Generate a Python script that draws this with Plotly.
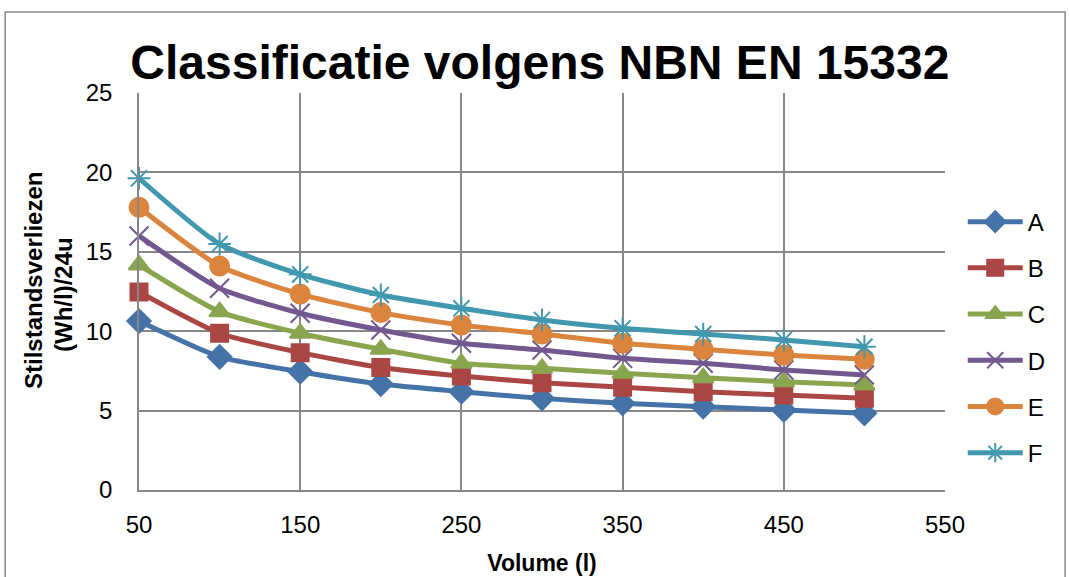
import plotly.graph_objects as go

volumes = [50, 100, 150, 200, 250, 300, 350, 400, 450, 500]
A = [10.64, 8.39, 7.45, 6.67, 6.19, 5.77, 5.46, 5.25, 5.04, 4.83]
B = [12.47, 9.87, 8.65, 7.72, 7.18, 6.76, 6.47, 6.19, 5.98, 5.77]
C = [14.17, 11.23, 9.87, 8.86, 7.98, 7.66, 7.35, 7.07, 6.82, 6.61]
D = [16.00, 12.70, 11.13, 10.08, 9.24, 8.82, 8.29, 7.98, 7.56, 7.24]
E = [17.80, 14.10, 12.34, 11.17, 10.39, 9.82, 9.24, 8.86, 8.50, 8.23]
F = [19.63, 15.49, 13.58, 12.28, 11.44, 10.71, 10.18, 9.82, 9.45, 9.02]

series = [
    ("A", A, "#4572A7", "diamond", 18),
    ("B", B, "#AA4643", "square", 17),
    ("C", C, "#89A54E", "triangle-up", 18),
    ("D", D, "#71588F", "x-thin-open", 19),
    ("E", E, "#DB843D", "circle", 19),
    ("F", F, "#4198AF", "asterisk-open", 19),
]

fig = go.Figure()
for i, (name, vals, col, sym, sz) in enumerate(series):
    fig.add_trace(go.Scatter(
        x=volumes, y=vals, name=name, mode="lines+markers",
        line=dict(color=col, width=5, shape="spline", smoothing=0.6),
        marker=dict(symbol=sym, size=sz, color=col,
                    line=dict(color=col, width=2)),
        legendgroup=name, cliponaxis=False,
    ))

fig.update_layout(
    width=1069, height=577,
    margin=dict(l=139, r=124, t=93, b=87, autoexpand=False),
    paper_bgcolor="white", plot_bgcolor="white",
    font=dict(family="Liberation Sans, Arial, sans-serif", color="black", size=24),
    title=dict(text="<b>Classificatie volgens NBN EN 15332</b>",
               x=0.505, xanchor="center", y=0.893, yanchor="middle",
               font=dict(size=48, color="black")),
    xaxis=dict(range=[50, 550], tickvals=[50, 150, 250, 350, 450, 550],
               showgrid=True, gridcolor="#878787", gridwidth=1.5,
               showline=True, linecolor="#878787", linewidth=1.5,
               zeroline=False, ticks="", ticklen=0, ticklabelstandoff=12,
               tickfont=dict(size=24), automargin=False,
               title=dict(text="<b>Volume (l)</b>", font=dict(size=23), standoff=18)),
    yaxis=dict(range=[0, 25], tickvals=[0, 5, 10, 15, 20, 25],
               showgrid=True, gridcolor="#878787", gridwidth=1.5,
               showline=True, linecolor="#878787", linewidth=1.5,
               zeroline=False, ticks="", tickfont=dict(size=24),
               ticklabelstandoff=20, automargin=False),
    legend=dict(x=1.022, xanchor="left", y=0.384, yanchor="middle",
                font=dict(size=24), tracegroupgap=12,
                bgcolor="rgba(0,0,0,0)", itemwidth=55),
    showlegend=True,
)

fig.add_annotation(text="<b>Stilstandsverliezen</b>", xref="paper", yref="paper",
                   x=(33 - 139) / 806, y=(490 - 281) / 397, textangle=-90, showarrow=False,
                   xanchor="center", yanchor="middle", font=dict(size=24))
fig.add_annotation(text="<b>(Wh/l)/24u</b>", xref="paper", yref="paper",
                   x=(63 - 139) / 806, y=(490 - 295) / 397, textangle=-90, showarrow=False,
                   xanchor="center", yanchor="middle", font=dict(size=24))

fig.add_shape(type="rect", xref="paper", yref="paper",
              x0=-0.166, x1=1.149, y0=-0.3, y1=1.204,
              line=dict(color="#878787", width=1.5), fillcolor="rgba(0,0,0,0)",
              layer="below")

fig.write_html("out.html")
